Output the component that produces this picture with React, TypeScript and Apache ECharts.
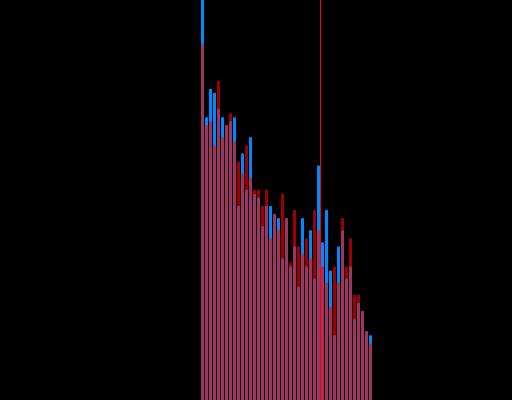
import React, { useEffect, useRef } from "react";
import * as echarts from "echarts";

// Histogram bin indices (43 bins)
const bins: number[] = Array.from({ length: 43 }, (_, i) => i);

// Counts per bin for the two overlaid distributions
const blueCounts: number[] = [
  104, 70, 77, 76, 72, 70, 68, 69, 70, 48,
  61, 52, 65, 51, 50, 43, 48, 48, 46, 45,
  35, 45, 33, 38, 28, 45, 33, 42, 30, 58,
  39, 47, 32, 16, 38, 42, 30, 33, 20, 24,
  22, 17, 16,
];
const redCounts: number[] = [
  88, 68, 69, 63, 79, 65, 68, 71, 64, 59,
  56, 63, 55, 52, 52, 48, 52, 40, 46, 42,
  51, 45, 34, 47, 38, 36, 40, 35, 47, 42,
  33, 29, 23, 33, 29, 45, 33, 40, 26, 26,
  22, 17, 14,
];

// Vertical reference line position, on the bin boundary
const thresholdBin = 29.5;

const yMax = 99;

export default function App() {
  const ref = useRef<HTMLDivElement>(null);

  useEffect(() => {
    if (!ref.current) return;
    const chart = echarts.init(ref.current, undefined, { renderer: "svg" });
    chart.setOption({
      animation: false,
      backgroundColor: "#000000",
      grid: { left: 200.5, width: 172, top: 0, bottom: 0 },
      xAxis: {
        type: "value",
        min: -0.5,
        max: bins.length - 0.5,
        show: false,
        splitLine: { show: false },
      },
      yAxis: {
        type: "value",
        min: 0,
        max: yMax,
        show: false,
        splitLine: { show: false },
      },
      series: [
        {
          type: "bar",
          data: bins.map((b, i) => [b, blueCounts[i]]),
          barWidth: 3,
          barGap: "-100%",
          itemStyle: { color: "#0088ff" },
          z: 2,
        },
        {
          type: "bar",
          data: bins.map((b, i) => [b, redCounts[i]]),
          barWidth: 3,
          barGap: "-100%",
          itemStyle: { color: "#ff0000", opacity: 0.62 },
          z: 3,
        },
        {
          type: "line",
          data: [],
          z: 10,
          markLine: {
            silent: true,
            symbol: "none",
            label: { show: false },
            lineStyle: { color: "#ff0000", width: 1, type: "solid", opacity: 1 },
            data: [{ xAxis: thresholdBin }],
          },
        },
      ],
    });
    return () => chart.dispose();
  }, []);

  return (
    <div
      ref={ref}
      style={{
        position: "fixed",
        left: 0,
        top: 0,
        width: 512,
        height: 400,
        background: "#000000",
      }}
    />
  );
}
